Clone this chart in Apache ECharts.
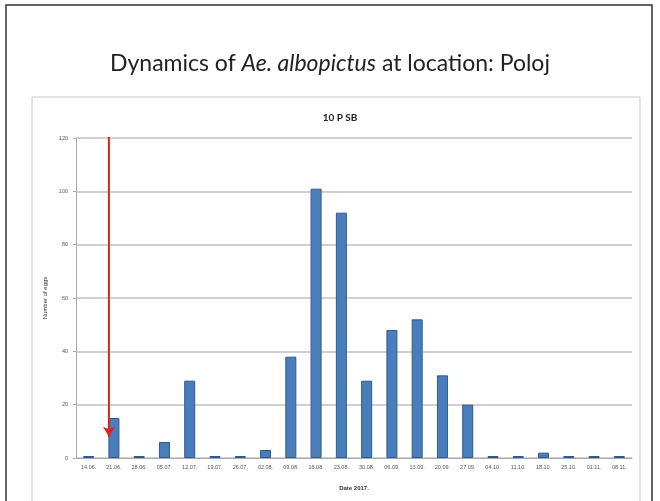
<!DOCTYPE html>
<html>
<head>
<meta charset="utf-8">
<script src="https://cdn.jsdelivr.net/npm/echarts@6/dist/echarts.min.js"></script>
<style>html,body{margin:0;padding:0;background:#fff;}#c{width:660px;height:501px;}</style>
</head>
<body>
<div id="c"></div>
<script>
const categories = ['14.06.','21.06.','28.06.','05.07.','12.07.','19.07.','26.07.','02.08.','09.08.','16.08.','23.08.','30.08.','06.09.','13.09.','20.09.','27.09.','04.10.','11.10.','18.10.','25.10.','01.11.','08.11.'];
const eggs = [0,15,0,6,29,0,0,3,38,101,92,29,48,52,31,20,0,0,2,0,0,0];
const yTicks = [0,20,40,60,80,100,120];
const arrowCategory = '21.06.';
const arrowFrom = 122, arrowTo = 8;

const chart = echarts.init(document.getElementById('c'));
chart.setOption({
  animation: false,
  backgroundColor: '#fff',
  graphic: [
    {type:'rect', shape:{x:6,y:5,width:646,height:500}, style:{fill:'none',stroke:'#333',lineWidth:1.5}, silent:true},
    {type:'rect', shape:{x:32,y:97,width:608,height:410}, style:{fill:'none',stroke:'#c8c8c8',lineWidth:1}, silent:true},
    {type:'text', left:'center', top:52, style:{
      rich:{n:{fontFamily:'Lato, "Open Sans", sans-serif',fontSize:23,fill:'#222'}, i:{fontFamily:'Lato, "Open Sans", sans-serif',fontSize:23,fontStyle:'italic',fill:'#222'}},
      text:'{n|Dynamics of }{i|Ae. albopictus}{n| at location: Poloj}'
    }}
  ],
  title: {
    text: '10 P SB', left: 335, top: 108, textAlign:'center',
    textStyle: {fontSize: 10, fontWeight: 'bold', fontFamily: 'Lato, sans-serif', color:'#222'}
  },
  grid: [
    {left: 76, right: 28, top: 138, bottom: 43},
    {left: 71, right: 33, top: 138, bottom: 43}
  ],
  xAxis: [{
    type: 'category', data: categories, gridIndex: 0,
    name: 'Date 2017.', nameLocation: 'middle', nameGap: 27,
    nameTextStyle: {fontSize: 6, fontWeight:'bold', color:'#333'},
    axisLine: {lineStyle:{color:'#aaa'}}, axisTick: {show:false},
    axisLabel: {fontSize: 5.5, color:'#555', interval: 0, margin: 6}
  }, {
    type: 'category', data: categories, gridIndex: 1, show: false
  }],
  yAxis: [{
    type: 'value', min: yTicks[0], max: yTicks[yTicks.length-1], interval: 20, gridIndex: 0,
    name: 'Number of eggs', nameLocation: 'middle', nameGap: 22,
    nameTextStyle: {fontSize: 6, color:'#333'},
    axisLine: {show:true, lineStyle:{color:'#aaa'}},
    axisTick: {show:true, length:3, lineStyle:{color:'#aaa'}},
    axisLabel: {fontSize: 5.5, color:'#555', margin: 8},
    splitLine: {lineStyle:{color:'#c0c0c0', width:1.5}}
  }, {
    type: 'value', min: yTicks[0], max: yTicks[yTicks.length-1], interval: 20, gridIndex: 1, show: false
  }],
  series: [{
    type: 'bar', data: eggs, barWidth: 11, barMinHeight: 2,
    itemStyle: {color: '#4A7EBB', borderColor:'#2F5A8E', borderWidth:1},
    z: 2
  }, {
    type: 'line', z: 5, silent: true, xAxisIndex: 1, yAxisIndex: 1,
    lineStyle: {color:'#e0201b', width: 2},
    itemStyle: {color:'#e0201b'},
    data: [
      {value:[arrowCategory, arrowFrom], symbol:'none'},
      {value:[arrowCategory, arrowTo], symbol:'arrow', symbolSize:[9,10], symbolRotate:180}
    ]
  }]
});
</script>
</body>
</html>
